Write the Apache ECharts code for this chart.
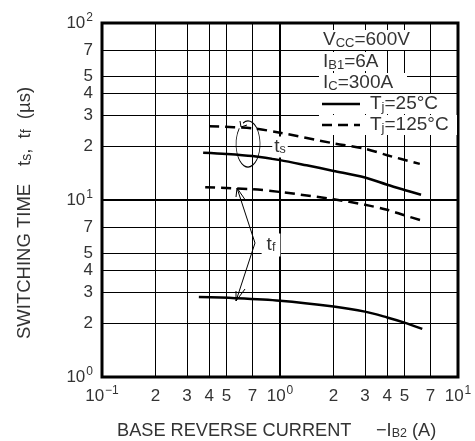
<!DOCTYPE html>
<html>
<head>
<meta charset="utf-8">
<script src="https://cdn.jsdelivr.net/npm/echarts@6/dist/echarts.min.js"></script>
<style>
  html, body { margin: 0; padding: 0; background: #fff; }
  #chart { width: 475px; height: 441px; }
</style>
</head>
<body>
<div id="chart"></div>
<script>
// 数据 (读自图片)
var ts25X = [0.37, 0.5, 0.7, 1, 1.41, 2, 3, 4, 5, 6.2];
var ts25Y = [18.5, 18.2, 17.7, 16.8, 15.7, 14.6, 13.4, 12.2, 11.4, 10.7];
var ts125X = [0.4, 0.7, 1, 2, 3, 4, 6.1];
var ts125Y = [26.1, 25.4, 24.0, 20.9, 19.5, 17.9, 16.0];
var tf25X = [0.35, 0.56, 1, 2, 3, 4, 5, 6.3];
var tf25Y = [2.83, 2.79, 2.70, 2.50, 2.34, 2.17, 2.03, 1.87];
var tf125X = [0.38, 0.7, 1, 2, 3, 4, 5, 6.3];
var tf125Y = [11.8, 11.5, 11.1, 10.1, 9.4, 8.8, 8.2, 7.64];

// 刻度
var xTicks = [0.1, 0.2, 0.3, 0.4, 0.5, 0.7, 1, 2, 3, 4, 5, 7, 10];
var yTicks = [1, 2, 3, 4, 5, 7, 10, 20, 30, 40, 50, 70, 100];
var powLabels = {0.1: '−1', 1: '0', 10: '1', 100: '2'};

var FONT = '"Liberation Sans", Arial, sans-serif';
var TXT = '#333';

function pairs(xs, ys) {
    var out = [];
    for (var i = 0; i < xs.length; i++) out.push([xs[i], ys[i]]);
    return out;
}
function tickLabel(v) {
    var k = Math.round(v * 1000) / 1000;
    if (powLabels[k]) return '{b|10}{sup|' + powLabels[k] + '}';
    var m = k >= 10 ? k / 10 : (k < 1 ? k * 10 : k);
    return '{b|' + Math.round(m) + '}';
}
var richTick = {
    b: {fontSize: 17, lineHeight: 22, color: TXT, fontFamily: FONT},
    sup: {fontSize: 12, lineHeight: 12, verticalAlign: 'top', color: TXT, fontFamily: FONT, padding: [0, 0, 0, 1]}
};
var subStyle = {fontSize: 12.5, verticalAlign: 'bottom', fill: TXT, fontFamily: FONT};

function lineSeries(name, data, dashed) {
    return {
        name: name,
        type: 'line',
        data: data,
        smooth: 0.3,
        symbol: 'none',
        silent: true,
        lineStyle: {color: '#000', width: 2.5, type: dashed ? [10, 6] : 'solid'},
        z: 5
    };
}
function legendText(x, y, txt) {
    return {type: 'text', x: x, y: y, z: 11, style: {text: txt, fill: TXT, fontSize: 19, fontFamily: FONT,
        verticalAlign: 'middle', rich: {s: {fontSize: 13, verticalAlign: 'bottom', fill: TXT, fontFamily: FONT}}}};
}
function whiteBox(x, y, w, h) {
    return {type: 'rect', shape: {x: x, y: y, width: w, height: h}, style: {fill: '#fff'}, z: 10};
}
function yTitle(y, txt) {
    return {
        type: 'text', x: 15, y: y, rotation: Math.PI / 2,
        style: {
            text: txt, fill: TXT, fontSize: 18.5, fontFamily: FONT,
            rich: {sub: {fontSize: 14, verticalAlign: 'bottom', fill: TXT, fontFamily: FONT}}
        }
    };
}

var chart = echarts.init(document.getElementById('chart'));
var option = {
    animation: false,
    backgroundColor: '#fff',
    grid: {left: 102, right: 17, top: 23, bottom: 64, show: true, borderColor: '#000', borderWidth: 3},
    xAxis: {
        type: 'log', logBase: 10, min: 0.1, max: 10,
        axisLine: {show: false},
        axisTick: {show: false, customValues: xTicks},
        splitLine: {show: true, lineStyle: {color: '#000', width: 1}},
        axisLabel: {customValues: xTicks, formatter: tickLabel, margin: 8, rich: richTick}
    },
    yAxis: {
        type: 'log', logBase: 10, min: 1, max: 100,
        axisLine: {show: false},
        axisTick: {show: false, customValues: yTicks},
        splitLine: {show: true, lineStyle: {color: '#000', width: 1}},
        axisLabel: {customValues: yTicks, formatter: tickLabel, margin: 9, rich: richTick}
    },
    series: [
        lineSeries('ts25', pairs(ts25X, ts25Y), false),
        lineSeries('ts125', pairs(ts125X, ts125Y), true),
        lineSeries('tf25', pairs(tf25X, tf25Y), false),
        lineSeries('tf125', pairs(tf125X, tf125Y), true),
        {
            // 主网格线加粗
            type: 'line', data: [], silent: true,
            markLine: {
                silent: true, symbol: 'none', label: {show: false},
                lineStyle: {color: '#000', width: 2, type: 'solid'},
                data: [{xAxis: 1}, {yAxis: 10}]
            }
        }
    ],
    graphic: [
        // 坐标轴标题
        {type: 'text', x: 117, y: 431, style: {text: 'BASE REVERSE CURRENT', fill: TXT, fontSize: 18.2, fontFamily: FONT, verticalAlign: 'middle'}},
        {type: 'text', x: 376, y: 431, style: {text: '−I{sub|B2} (A)', fill: TXT, fontSize: 18.2, fontFamily: FONT, verticalAlign: 'middle',
            rich: {sub: subStyle}}},
        yTitle(339, 'SWITCHING TIME'),
        yTitle(166, 't{sub|s},  t{sub|f}  (µs)'),
        // 图例框
        whiteBox(319, 30, 95, 20),
        legendText(323, 40, 'V{s|CC}=600V'),
        whiteBox(319, 52, 68, 19),
        legendText(323, 62, 'I{s|B1}=6A'),
        whiteBox(319, 73, 88, 20),
        legendText(323, 83, 'I{s|C}=300A'),
        whiteBox(319, 94, 134, 20),
        {type: 'line', shape: {x1: 322, y1: 104, x2: 360, y2: 104}, style: {stroke: '#000', lineWidth: 2.5}, z: 11},
        legendText(370, 104, 'T{s|j}=25°C'),
        whiteBox(319, 115, 138, 20),
        {type: 'line', shape: {x1: 322, y1: 125, x2: 360, y2: 125}, style: {stroke: '#000', lineWidth: 2.5, lineDash: [10, 6]}, z: 11},
        legendText(370, 125, 'T{s|j}=125°C'),
        // ts 注释
        {type: 'arc', shape: {cx: 0, cy: 0, r: 1, startAngle: -2.0, endAngle: 3.9}, x: 248, y: 144, scaleX: 12, scaleY: 23,
            style: {stroke: '#000', lineWidth: 1, fill: null, strokeNoScale: true}, z: 12},
        {type: 'polyline', shape: {points: [[240, 121], [241, 127], [247, 125]]}, style: {stroke: '#000', lineWidth: 1, fill: null}, z: 12},
        {type: 'text', x: 280, y: 147, z: 12, style: {text: 't{s|s}', fill: TXT, fontSize: 19, fontFamily: FONT, align: 'center', verticalAlign: 'middle',
            backgroundColor: '#fff', padding: [1, 2],
            rich: {s: subStyle}}},
        // tf 注释
        {type: 'polyline', shape: {points: [[237, 188], [255, 243], [236, 301]]}, style: {stroke: '#000', lineWidth: 1, fill: null}, z: 12},
        {type: 'polyline', shape: {points: [[236, 197], [237, 188], [246, 201]]}, style: {stroke: '#000', lineWidth: 1, fill: null}, z: 12},
        {type: 'polyline', shape: {points: [[245, 289], [236, 301], [236, 291]]}, style: {stroke: '#000', lineWidth: 1, fill: null}, z: 12},
        {type: 'text', x: 271, y: 245, z: 12, style: {text: 't{s|f}', fill: TXT, fontSize: 19, fontFamily: FONT, align: 'center', verticalAlign: 'middle',
            backgroundColor: '#fff', padding: [2, 5],
            rich: {s: subStyle}}}
    ]
};
chart.setOption(option);
</script>
</body>
</html>
